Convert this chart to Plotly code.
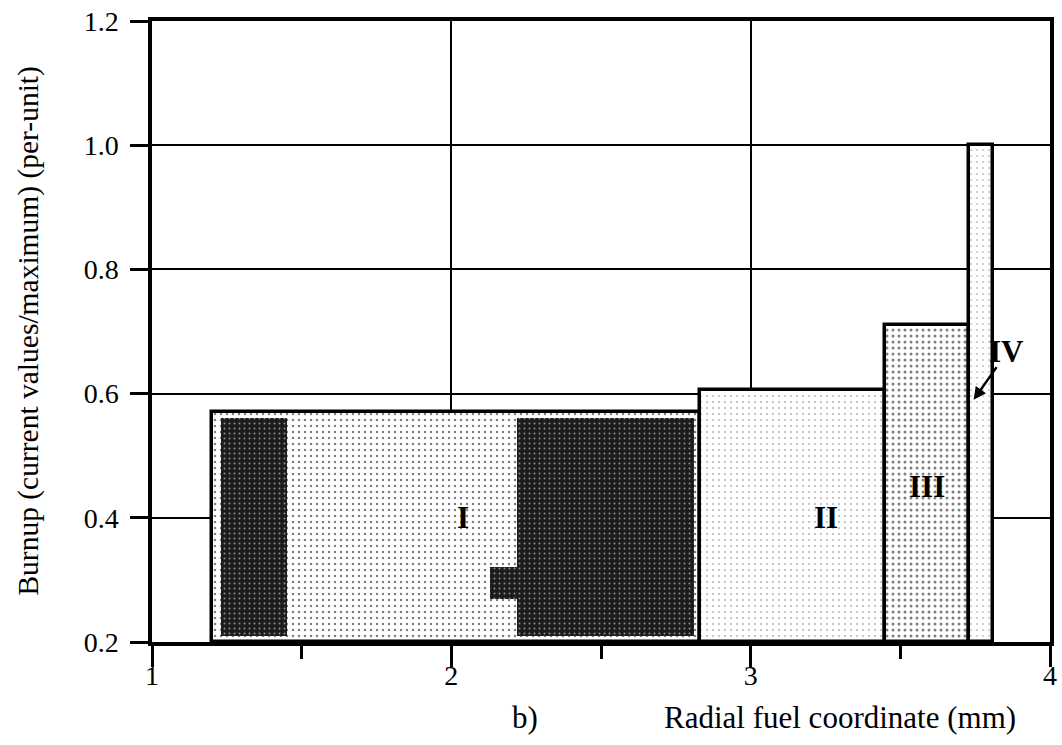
import plotly.graph_objects as go

# Regions (zones) of the fuel pellet: radial edges (mm) and burnup (per-unit)
zone_names = ["I", "II", "III", "IV"]
zone_left = [1.20, 2.83, 3.45, 3.73]
zone_right = [2.83, 3.45, 3.73, 3.81]
zone_burnup = [0.57, 0.605, 0.71, 1.00]
zone_density = [0.14, 0.06, 0.2, 0.04]

# Dark (dense) sub-areas inside zone I
dark_left = [1.23, 2.22, 2.13]
dark_right = [1.45, 2.81, 2.22]
dark_bottom = [0.21, 0.21, 0.27]
dark_top = [0.56, 0.56, 0.32]

# Zone label positions
label_x = [2.04, 3.25, 3.59, 3.855]
label_y = [0.40, 0.40, 0.45, 0.667]
arrow_tip = (3.745, 0.59)
arrow_tail = (3.825, 0.645)

x_ticks = [1, 2, 3, 4]
y_ticks = [0.2, 0.4, 0.6, 0.8, 1.0, 1.2]

base = 0.2
FONT = "Liberation Serif"

fig = go.Figure()

fig.add_trace(go.Bar(
    x=[(l + r) / 2 for l, r in zip(zone_left, zone_right)],
    y=[b - base for b in zone_burnup],
    base=base,
    width=[r - l for l, r in zip(zone_left, zone_right)],
    marker=dict(
        color="white",
        line=dict(color="black", width=3.5),
        pattern=dict(shape=".", fgcolor="black", bgcolor="white",
                     size=6, solidity=zone_density, fillmode="overlay"),
    ),
    showlegend=False,
    hoverinfo="skip",
))

fig.add_trace(go.Bar(
    x=[(l + r) / 2 for l, r in zip(dark_left, dark_right)],
    y=[t - b for t, b in zip(dark_top, dark_bottom)],
    base=dark_bottom,
    width=[r - l for l, r in zip(dark_left, dark_right)],
    marker=dict(
        color="#1c1c1c",
        line=dict(width=0),
        pattern=dict(shape=".", fgcolor="white", bgcolor="#1c1c1c",
                     size=5, solidity=0.12, fillmode="overlay"),
    ),
    showlegend=False,
    hoverinfo="skip",
))

for i, name in enumerate(zone_names):
    if name == "IV":
        fig.add_annotation(
            x=arrow_tip[0], y=arrow_tip[1], xref="x", yref="y",
            ax=arrow_tail[0], ay=arrow_tail[1], axref="x", ayref="y",
            text="", showarrow=True, arrowhead=2, arrowsize=1, arrowwidth=2.5,
            arrowcolor="black",
        )
    fig.add_annotation(
        x=label_x[i], y=label_y[i], xref="x", yref="y",
        xanchor="center", yanchor="middle",
        text="<b>" + name + "</b>", showarrow=False,
        font=dict(family=FONT, size=31, color="black"),
    )

# Axis titles as annotations
fig.add_annotation(
    x=3.30, y=-0.121, xref="x", yref="paper",
    xanchor="center", yanchor="middle",
    text="Radial fuel coordinate (mm)", showarrow=False,
    font=dict(family=FONT, size=31, color="black"),
)
fig.add_annotation(
    x=2.245, y=-0.121, xref="x", yref="paper",
    xanchor="center", yanchor="middle",
    text="b)", showarrow=False,
    font=dict(family=FONT, size=31, color="black"),
)
fig.add_annotation(
    x=-0.138, y=0.5, xref="paper", yref="paper",
    xanchor="center", yanchor="middle",
    text="Burnup (current values/maximum) (per-unit)", showarrow=False,
    textangle=-90,
    font=dict(family=FONT, size=29.5, color="black"),
)

fig.update_layout(
    width=1062, height=745,
    margin=dict(l=152, r=12, t=21, b=103),
    paper_bgcolor="white", plot_bgcolor="white",
    barmode="overlay",
    bargap=0,
    font=dict(family=FONT, color="black"),
    xaxis=dict(
        range=[1, 4], tickvals=x_ticks, ticktext=[str(v) for v in x_ticks],
        ticks="outside", ticklen=21, tickwidth=3, tickcolor="black",
        showline=True, linewidth=3.5, linecolor="black", mirror=True,
        showgrid=True, gridcolor="black", gridwidth=1.5, zeroline=False,
        minor=dict(ticks="outside", ticklen=13, tickwidth=3, tickcolor="black",
                   dtick=0.5, tick0=1, showgrid=False),
        tickfont=dict(family=FONT, size=28, color="black"),
        automargin=False, ticklabelstandoff=-15, ticklabeloverflow="allow",
    ),
    yaxis=dict(
        range=[0.2, 1.2], tickvals=y_ticks, ticktext=[f"{v:.1f}" for v in y_ticks],
        ticks="outside", ticklen=18, tickwidth=3, tickcolor="black",
        showline=True, linewidth=3.5, linecolor="black", mirror=True,
        showgrid=True, gridcolor="black", gridwidth=1.5, zeroline=False,
        tickfont=dict(family=FONT, size=28, color="black"),
        automargin=False, ticklabelstandoff=6, ticklabeloverflow="allow",
    ),
)

# Remove the default page margin so the figure fills the window exactly
fig.write_html("out.html", config={"displayModeBar": False},
               post_script="document.body.style.margin='0px';")
